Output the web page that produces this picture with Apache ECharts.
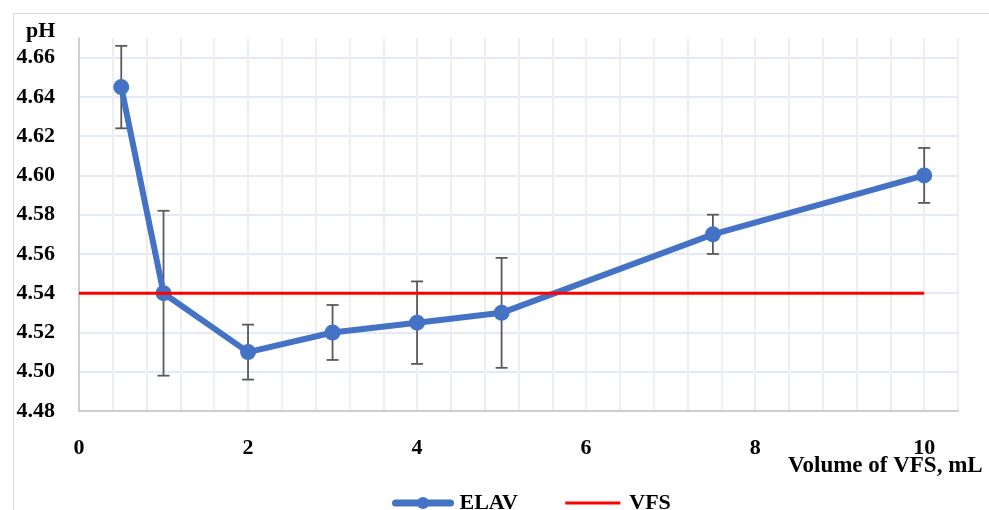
<!DOCTYPE html>
<html>
<head>
<meta charset="utf-8">
<script src="https://cdn.jsdelivr.net/npm/echarts@6/dist/echarts.min.js"></script>
<style>
html,body{margin:0;padding:0;background:#fff;}
#c{width:989px;height:510px;}
</style>
</head>
<body>
<div id="c"></div>
<script>
// Data
var volumes = [0.5, 1, 2, 3, 4, 5, 7.5, 10];
var elavPH = [4.645, 4.54, 4.51, 4.52, 4.525, 4.53, 4.57, 4.60];
var elavErr = [0.021, 0.042, 0.014, 0.014, 0.021, 0.028, 0.010, 0.014];
var vfsX = [0, 10];
var vfsPH = [4.54, 4.54];
var seriesNames = ['ELAV', 'VFS'];
var xTitle = 'Volume of VFS, mL';
var yTitle = 'pH';

var FONT = '"Liberation Serif", "Times New Roman", serif';

var elavData = volumes.map(function (v, i) { return [v, elavPH[i]]; });
var errData = volumes.map(function (v, i) { return [v, elavPH[i] - elavErr[i], elavPH[i] + elavErr[i]]; });
var vfsData = vfsX.map(function (v, i) { return [v, vfsPH[i]]; });

var chart = echarts.init(document.getElementById('c'), null, {renderer: 'canvas'});
chart.setOption({
  animation: false,
  backgroundColor: '#fff',
  graphic: [
    {type: 'rect', left: 11, top: 11, shape: {width: 1000, height: 600}, style: {fill: 'none', stroke: '#d9d9d9', lineWidth: 1}, z: -10},
    {type: 'text', left: 26, top: 20, style: {text: yTitle, font: 'bold 22px ' + FONT, fill: '#000'}},
    {type: 'text', left: 788, top: 455, style: {text: xTitle, font: 'bold 23px ' + FONT, fill: '#000'}}
  ],
  grid: {left: 79, top: 38, right: 31, bottom: 99, containLabel: false},
  legend: {
    data: [
      {name: seriesNames[0], lineStyle: {width: 7, cap: 'round'}, itemStyle: {color: '#4472C4'}},
      {name: seriesNames[1], lineStyle: {width: 3}, itemStyle: {opacity: 0}}
    ],
    left: 387,
    top: 487,
    itemWidth: 55,
    itemHeight: 15,
    itemGap: 46,
    textStyle: {fontFamily: FONT, fontWeight: 'bold', fontSize: 22, color: '#000', padding: [0, 0, 0, 4]}
  },
  xAxis: {
    type: 'value',
    min: 0,
    max: 10.4,
    interval: 0.4,
    axisLine: {show: true, lineStyle: {color: '#bfbfbf', width: 1.5}},
    axisTick: {show: false},
    axisLabel: {
      margin: 26,
      fontFamily: FONT, fontWeight: 'bold', fontSize: 22, color: '#000',
      showMaxLabel: false,
      formatter: function (v) {
        var r = Math.round(v / 2);
        return Math.abs(v / 2 - r) < 1e-6 ? String(r * 2) : '';
      }
    },
    splitLine: {show: true, showMinLine: false, lineStyle: {color: '#eeeeee', width: 2}}
  },
  yAxis: {
    type: 'value',
    min: 4.48,
    max: 4.67,
    interval: 0.02,
    axisLine: {show: true, lineStyle: {color: '#bfbfbf', width: 1.5}},
    axisTick: {show: false},
    axisLabel: {
      margin: 24,
      fontFamily: FONT, fontWeight: 'bold', fontSize: 22, color: '#000',
      showMaxLabel: false,
      formatter: function (v) { return v.toFixed(2); }
    },
    splitLine: {show: true, showMinLine: false, showMaxLine: false, lineStyle: {color: '#dae3f3', width: 1.5}}
  },
  series: [
    {
      name: 'errorbars',
      type: 'custom',
      z: 2,
      data: errData,
      renderItem: function (params, api) {
        var x = api.value(0);
        var lo = api.coord([x, api.value(1)]);
        var hi = api.coord([x, api.value(2)]);
        var cap = 6;
        var st = {stroke: '#595959', lineWidth: 1.8};
        return {
          type: 'group',
          children: [
            {type: 'line', shape: {x1: hi[0], y1: hi[1], x2: lo[0], y2: lo[1]}, style: st},
            {type: 'line', shape: {x1: hi[0] - cap, y1: hi[1], x2: hi[0] + cap, y2: hi[1]}, style: st},
            {type: 'line', shape: {x1: lo[0] - cap, y1: lo[1], x2: lo[0] + cap, y2: lo[1]}, style: st}
          ]
        };
      }
    },
    {
      name: seriesNames[0],
      type: 'line',
      z: 3,
      data: elavData,
      symbol: 'circle',
      symbolSize: 16,
      lineStyle: {color: '#4472C4', width: 6},
      itemStyle: {color: '#4472C4'}
    },
    {
      name: seriesNames[1],
      type: 'line',
      z: 4,
      data: vfsData,
      symbol: 'none',
      showSymbol: false,
      lineStyle: {color: '#FF0000', width: 3},
      itemStyle: {color: '#FF0000'}
    }
  ]
});
</script>
</body>
</html>
